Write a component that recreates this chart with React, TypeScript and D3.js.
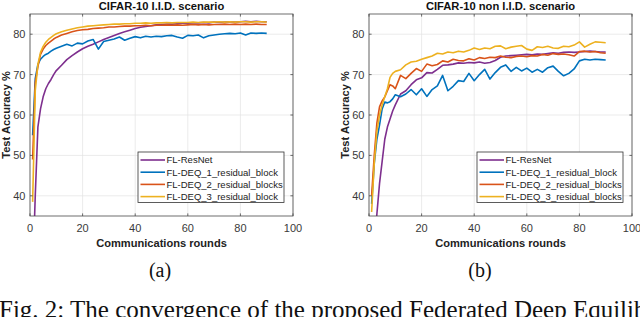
import * as d3 from 'd3'

// rounds sampled from the curves (shared by every series of a panel)
const roundsA = [1, 2, 3, 4, 5, 6, 7, 8, 9, 10, 12, 14, 16, 18, 20, 22, 24, 26, 28, 30, 32, 34, 36, 38, 40, 42, 44, 46, 48, 50, 52, 54, 56, 58, 60, 62, 64, 66, 68, 70, 72, 74, 76, 78, 80, 82, 84, 86, 88, 90]
const roundsB = roundsA

// CIFAR-10 I.I.D.
const iidResNet = [20, 40, 57, 61.5, 64.5, 66.5, 67.8, 68.8, 70, 71, 72.3, 73.7, 74.7, 75.6, 76.4, 77, 77.5, 78.1, 78.7, 79.2, 79.7, 80.2, 80.6, 81, 81.4, 81.7, 81.9, 82.1, 82.3, 82.4, 82.5, 82.5, 82.6, 82.7, 82.7, 82.8, 82.8, 82.9, 82.8, 83, 82.9, 83, 83.1, 83, 83.1, 83.2, 83.1, 83.2, 83.1, 83.1]
const iidDeq1 = [55, 69, 72.5, 73.8, 74.5, 75, 75.3, 75.8, 76.2, 76.5, 77, 77.5, 77.1, 77.8, 77.6, 78.3, 78.7, 76.3, 78.2, 78.5, 78.8, 79.3, 78.5, 79, 79.4, 79.1, 79.5, 79.3, 79.5, 79.4, 79.6, 79.7, 79.3, 79, 79.7, 79.6, 79.8, 79.1, 79.6, 79.8, 80, 80.1, 80.2, 80.1, 80.3, 79.8, 80.3, 80.2, 80.3, 80.2]
const iidDeq2 = [49, 68, 72, 75, 76.3, 77.2, 77.8, 78.3, 78.8, 79.2, 79.8, 80.2, 80.6, 80.9, 81.1, 81.2, 81.4, 81.5, 81.6, 81.8, 81.8, 81.9, 82, 82, 82.1, 82.1, 82.2, 82.1, 82.2, 82.2, 82.3, 82.2, 82.3, 82.2, 82.3, 82.4, 82.3, 82.4, 82.3, 82.4, 82.4, 82.5, 82.4, 82.5, 82.4, 82.5, 82.4, 82.5, 82.4, 82.4]
const iidDeq3 = [38.5, 66, 72.5, 75.5, 77, 78, 78.7, 79.2, 79.7, 80.1, 80.6, 81, 81.3, 81.6, 81.8, 82, 82.1, 82.2, 82.3, 82.4, 82.5, 82.5, 82.6, 82.6, 82.7, 82.7, 82.8, 82.7, 82.8, 82.8, 82.9, 82.8, 82.9, 82.9, 82.9, 83, 82.9, 83, 83, 83, 83.1, 83, 83.1, 83, 83.1, 83.1, 83, 83.1, 83.1, 83]

// CIFAR-10 non I.I.D.
const nonResNet = [20, 28, 35.5, 43, 48.5, 54, 57, 59, 61, 62.5, 65.2, 66, 67.5, 68.7, 69.2, 70.5, 70.4, 71.3, 72.3, 72.4, 72.6, 72.9, 72.8, 73, 72.9, 73.1, 72.8, 73, 73.5, 74.3, 74.6, 74.7, 74.8, 74.9, 75, 74.9, 75.1, 75, 75.2, 75.4, 75.3, 75.5, 75.6, 75.5, 75.6, 75.7, 75.8, 75.7, 75.6, 75.6]
const nonDeq1 = [38, 48, 54, 57.5, 61.5, 63.2, 63, 63.3, 64, 65, 64.5, 65.2, 66.3, 65, 66.5, 64.6, 66.3, 67.2, 69.8, 66, 67.1, 68.5, 68.3, 70.3, 68.5, 70, 71.3, 68.9, 70.5, 71.8, 72.4, 70.8, 71.8, 70.9, 71.6, 70.6, 71.3, 70.6, 71.7, 72.1, 70.8, 69.7, 70.3, 71.4, 73.4, 73.8, 73.6, 73.8, 73.7, 73.6]
const nonDeq2 = [40, 50, 58, 62, 63.5, 64.5, 66, 67.5, 67.2, 66.5, 69.8, 69, 70.3, 71.5, 70.8, 72.6, 72.2, 72.5, 73.4, 73.1, 73.8, 73.5, 73.4, 73.9, 73.6, 74.2, 74, 74.3, 74.2, 74.6, 74.3, 74.2, 74.5, 74.6, 74.4, 74.7, 74.6, 75, 74.8, 75.2, 75, 75.1, 74.9, 74.6, 75.7, 75.8, 75.6, 75.7, 75.4, 75.3]
const nonDeq3 = [36, 48, 56, 60, 62.5, 64.5, 66.5, 69.3, 70.3, 70.8, 71.2, 72.4, 73.1, 73.3, 73.8, 74.2, 74.6, 75.3, 75.1, 75.6, 75.4, 75.8, 75.6, 76, 76.6, 76.2, 76.6, 76.4, 77, 77.1, 76.4, 76.8, 77, 77.2, 76.3, 76, 76.9, 76.7, 77, 76.6, 76.5, 77, 76.9, 77.3, 78.1, 76.8, 77.5, 78.1, 78, 77.9]

const xTicks = [0, 20, 40, 60, 80, 100]
const yTicks = [40, 50, 60, 70, 80]

const COLORS = ['#7E2F8E', '#0072BD', '#D95319', '#EDB120']
const namesA = ['FL-ResNet', 'FL-DEQ_1_residual_block', 'FL-DEQ_2_residual_blocks', 'FL-DEQ_3_residual_block']
const namesB = ['FL-ResNet', 'FL-DEQ_1_residual_block', 'FL-DEQ_2_residual_blocks', 'FL-DEQ_3_residual_blocks']

const SANS = '"Liberation Sans", Arial, Helvetica, sans-serif'
const SERIF = '"Liberation Serif", "Times New Roman", serif'

interface PanelProps {
  id: string
  left: number
  title: string
  rounds: number[]
  series: number[][]
  names: string[]
}

function Panel({ id, left, title, rounds, series, names }: PanelProps) {
  const w = 263
  const top = 14
  const bottom = 216
  const x = d3.scaleLinear().domain([0, 100]).range([left, left + w])
  const y = d3.scaleLinear().domain([35, 85]).range([bottom, top])
  const line = d3.line<number>()
    .x((_, i) => x(rounds[i]))
    .y(d => y(d))

  const legRight = left + w - 9
  const legW = 146
  const legX = legRight - legW
  const legBottom = bottom - 13.5
  const legH = 50.5
  const legY = legBottom - legH
  const rowH = 12.2
  const cx = left + w / 2

  return (
    <g>
      <defs>
        <clipPath id={`clip-${id}`}>
          <rect x={left} y={top} width={w} height={bottom - top} />
        </clipPath>
      </defs>
      <rect x={left} y={top} width={w} height={bottom - top} fill="#fff" />
      {/* grid */}
      {xTicks.map(t => (
        <line key={`gx${t}`} x1={x(t)} x2={x(t)} y1={top} y2={bottom} stroke="#e3e3e3" strokeWidth={0.7} />
      ))}
      {yTicks.map(t => (
        <line key={`gy${t}`} x1={left} x2={left + w} y1={y(t)} y2={y(t)} stroke="#e3e3e3" strokeWidth={0.7} />
      ))}
      {/* series */}
      <g clipPath={`url(#clip-${id})`}>
        {series.map((s, i) => (
          <path key={i} d={line(s) || ''} fill="none" stroke={COLORS[i]} strokeWidth={1.6} strokeLinejoin="round" />
        ))}
      </g>
      {/* box + ticks */}
      <rect x={left} y={top} width={w} height={bottom - top} fill="none" stroke="#4a4a4a" strokeWidth={0.8} />
      {xTicks.map(t => (
        <g key={`tx${t}`}>
          <line x1={x(t)} x2={x(t)} y1={bottom} y2={bottom - 2.6} stroke="#4a4a4a" strokeWidth={0.8} />
          <line x1={x(t)} x2={x(t)} y1={top} y2={top + 2.6} stroke="#4a4a4a" strokeWidth={0.8} />
          <text x={x(t)} y={231.5} textAnchor="middle" fontSize={11} fill="#3a3a3a" fontFamily={SANS}>{t}</text>
        </g>
      ))}
      {yTicks.map(t => (
        <g key={`ty${t}`}>
          <line x1={left} x2={left + 2.6} y1={y(t)} y2={y(t)} stroke="#4a4a4a" strokeWidth={0.8} />
          <line x1={left + w} x2={left + w - 2.6} y1={y(t)} y2={y(t)} stroke="#4a4a4a" strokeWidth={0.8} />
          <text x={left - 4.5} y={y(t) + 3.9} textAnchor="end" fontSize={11} fill="#3a3a3a" fontFamily={SANS}>{t}</text>
        </g>
      ))}
      {/* labels */}
      <text x={cx} y={9.5} textAnchor="middle" fontSize={11.2} fontWeight="bold" fill="#111" fontFamily={SANS}>{title}</text>
      <text x={cx} y={246.5} textAnchor="middle" fontSize={11.1} fontWeight="bold" fill="#222" fontFamily={SANS}>Communications rounds</text>
      <text transform={`translate(${left - 20.5},${(top + bottom) / 2}) rotate(-90)`} textAnchor="middle" fontSize={11.1} fontWeight="bold" fill="#222" fontFamily={SANS}>Test Accuracy %</text>
      {/* legend */}
      <rect x={legX} y={legY} width={legW} height={legH} fill="#fff" stroke="#333" strokeWidth={0.8} />
      {names.map((n, i) => {
        const ry = legY + 8 + i * rowH
        return (
          <g key={n}>
            <line x1={legX + 2.5} x2={legX + 27} y1={ry} y2={ry} stroke={COLORS[i]} strokeWidth={1.6} />
            <text x={legX + 28.5} y={ry + 3.4} fontSize={9.5} fill="#222" fontFamily={SANS}>{n}</text>
          </g>
        )
      })}
    </g>
  )
}

export default function App() {
  return (
    <svg width={640} height={317} style={{ position: 'absolute', left: 0, top: 0, background: '#fff' }}>
      <rect width={640} height={317} fill="#fff" />
      <Panel id="a" left={30} title="CIFAR-10 I.I.D. scenario" rounds={roundsA} series={[iidResNet, iidDeq1, iidDeq2, iidDeq3]} names={namesA} />
      <Panel id="b" left={369} title="CIFAR-10 non I.I.D. scenario" rounds={roundsB} series={[nonResNet, nonDeq1, nonDeq2, nonDeq3]} names={namesB} />
      <text x={160} y={277} textAnchor="middle" fontSize={20} fill="#111" fontFamily={SERIF}>(a)</text>
      <text x={480} y={277} textAnchor="middle" fontSize={20} fill="#111" fontFamily={SERIF}>(b)</text>
      <text x={-1} y={318} fontSize={25} fill="#111" fontFamily={SERIF}>Fig. 2: The convergence of the proposed Federated Deep Equilibrium</text>
    </svg>
  )
}
